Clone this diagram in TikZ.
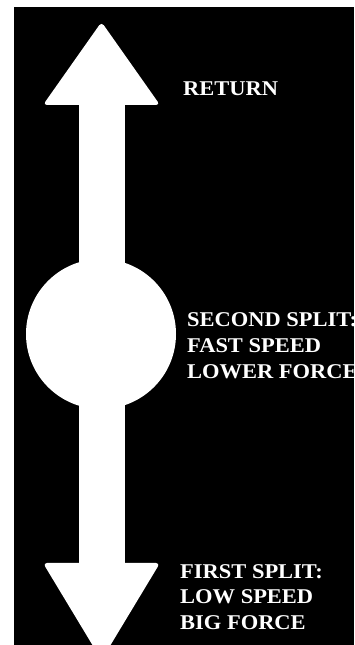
\documentclass[tikz,border=0pt]{standalone}
\usepackage{fontspec}
\setmainfont{Liberation Serif}
\definecolor{PanelBlack}{HTML}{000000}
\definecolor{ShapeWhite}{HTML}{FFFFFF}

\begin{document}
\begin{tikzpicture}[x=1pt,y=1pt, every node/.style={font=\fontsize{21}{26}\selectfont\bfseries, text=ShapeWhite, inner sep=0pt, align=left, xscale=1.07, anchor=base west}]
  \useasboundingbox (0,0) rectangle (354,645);
  \clip (0,0) rectangle (354,645);
  \fill[PanelBlack] (14,0) rectangle (354,638);

  \coordinate (hub) at (101,311);
  \fill[ShapeWhite] (79,82) rectangle (125,540);
  \fill[ShapeWhite] (hub) circle (75);
  \fill[ShapeWhite, rounded corners=4pt] (43,540) -- (101.5,623) -- (160,540) -- cycle;
  \fill[ShapeWhite, rounded corners=4pt] (43,82) -- (160,82) -- (101.5,-15) -- cycle;

  \node (return) at (183,549) {RETURN};
  \node (second) at (187,266) {SECOND SPLIT:\\FAST SPEED\\LOWER FORCE};
  \node (first) at (180,15) {FIRST SPLIT:\\LOW SPEED\\BIG FORCE};
\end{tikzpicture}
\end{document}
